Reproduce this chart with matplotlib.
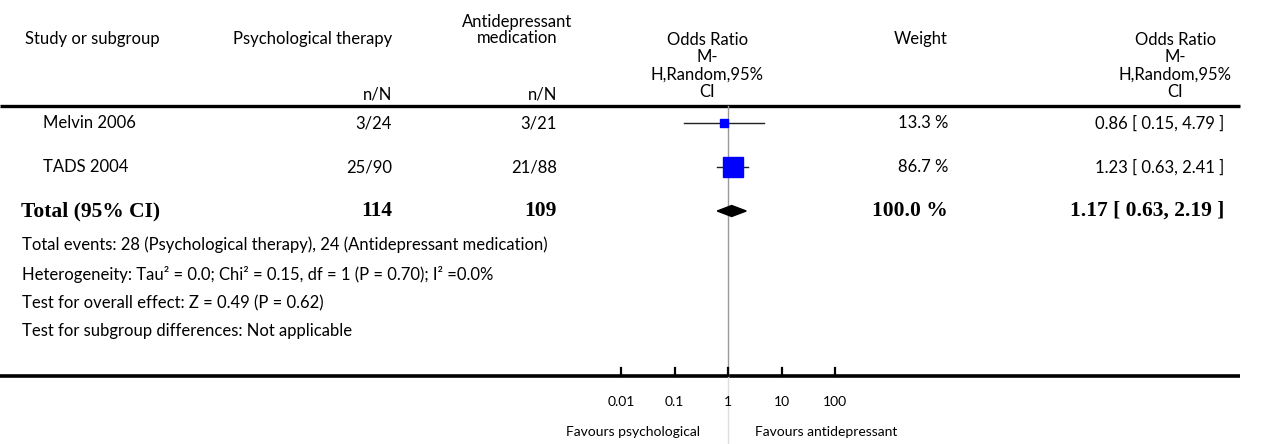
import matplotlib
matplotlib.use("Agg")
import matplotlib.pyplot as plt
import numpy as np

# data
studies = ["Melvin 2006", "TADS 2004"]
psy_events = ["3/24", "25/90"]
anti_events = ["3/21", "21/88"]
odds = [0.86, 1.23]
ci_low = [0.15, 0.63]
ci_high = [4.79, 2.41]
weights = [13.3, 86.7]
total_label = "Total (95% CI)"
total_n = [114, 109]
total_or = 1.17
total_low = 0.63
total_high = 2.19
total_weight = 100.0
tick_vals = [0.01, 0.1, 1, 10, 100]
tick_labels = ["0.01", "0.1", "1", "10", "100"]
notes = [
    "Total events: 28 (Psychological therapy), 24 (Antidepressant medication)",
    "Heterogeneity: Tau² = 0.0; Chi² = 0.15, df = 1 (P = 0.70); I² =0.0%",
    "Test for overall effect: Z = 0.49 (P = 0.62)",
    "Test for subgroup differences: Not applicable",
]

W, H = 1265, 444
fig = plt.figure(figsize=(W / 100, H / 100), dpi=100)
sans = "Lato"
serif = "Liberation Serif"
fs = 12

# text layer in pixel coordinates
ax_t = fig.add_axes([0, 0, 1, 1])
ax_t.set_xlim(0, W)
ax_t.set_ylim(H, 0)
ax_t.axis("off")

# forest layer, log scale, 1 at x=728 px, 53.5 px per decade
ax_f = fig.add_axes([0, 0, 1, 1], sharey=ax_t)
ax_f.set_xscale("log")
ax_f.set_xlim(10 ** ((0 - 728) / 53.5), 10 ** ((W - 728) / 53.5))
ax_f.axis("off")
ax_f.patch.set_alpha(0)

# header
ax_t.text(25, 39, "Study or subgroup", fontsize=fs, family=sans, va="center", ha="left")
ax_t.text(392, 39, "Psychological therapy", fontsize=fs, family=sans, va="center", ha="right")
ax_t.text(517, 30, "Antidepressant\nmedication", fontsize=fs, family=sans, va="center",
          ha="center", multialignment="center", linespacing=1.05)
ax_t.text(392, 95, "n/N", fontsize=fs, family=sans, va="center", ha="right")
ax_t.text(557, 95, "n/N", fontsize=fs, family=sans, va="center", ha="right")
ax_t.text(764, 66, "Odds Ratio\nM-\nH,Random,95%\nCI", fontsize=fs, family=sans, va="center",
          ha="right", multialignment="center", linespacing=1.1)
ax_t.text(948, 39, "Weight", fontsize=fs, family=sans, va="center", ha="right")
ax_t.text(1232, 66, "Odds Ratio\nM-\nH,Random,95%\nCI", fontsize=fs, family=sans, va="center",
          ha="right", multialignment="center", linespacing=1.1)

ax_t.plot([0, 1240], [106, 106], color="black", lw=2.4, solid_capstyle="butt")

# study rows
row_y = [123, 167]
wmax = max(weights)
for i in range(len(studies)):
    y = row_y[i]
    ax_t.text(43, y, studies[i], fontsize=fs, family=sans, va="center", ha="left")
    ax_t.text(392, y, psy_events[i], fontsize=fs, family=sans, va="center", ha="right")
    ax_t.text(557, y, anti_events[i], fontsize=fs, family=sans, va="center", ha="right")
    ax_t.text(948, y, "%.1f %%" % weights[i], fontsize=fs, family=sans, va="center", ha="right")
    ax_t.text(1224, y, "%.2f [ %.2f, %.2f ]" % (odds[i], ci_low[i], ci_high[i]),
              fontsize=fs, family=sans, va="center", ha="right")
    ax_f.plot([ci_low[i], ci_high[i]], [y, y], color="#222222", lw=1.0, zorder=3)
    ax_f.plot(odds[i], y, marker="s", color="#0000ff", ls="none",
              markersize=14.4 * np.sqrt(weights[i] / wmax), zorder=4)

# total row
ty = 211
bfs = 15.5
ax_t.text(21, ty, total_label, fontsize=bfs, family=serif, weight="bold", va="center", ha="left")
ax_t.text(392, ty, str(total_n[0]), fontsize=bfs, family=serif, weight="bold", va="center", ha="right")
ax_t.text(557, ty, str(total_n[1]), fontsize=bfs, family=serif, weight="bold", va="center", ha="right")
ax_t.text(948, ty, "%.1f %%" % total_weight, fontsize=bfs, family=serif, weight="bold",
          va="center", ha="right")
ax_t.text(1224, ty, "%.2f [ %.2f, %.2f ]" % (total_or, total_low, total_high), fontsize=bfs,
          family=serif, weight="bold", va="center", ha="right")
ax_f.fill([total_low, total_or, total_high, total_or], [ty, ty - 5.5, ty, ty + 5.5],
          color="black", zorder=4)

# notes
note_y = [245, 274, 303, 331]
for txt, y in zip(notes, note_y):
    ax_t.text(22, y, txt, fontsize=fs, family=sans, va="center", ha="left")

# null line and axis
ax_f.plot([1, 1], [106, 376], color="#999999", lw=1.0, zorder=2)
ax_f.plot([1, 1], [376, 444], color="#dddddd", lw=1.0, zorder=2)
ax_t.plot([0, 1240], [376, 376], color="black", lw=2.6, solid_capstyle="butt")
for t, lab in zip(tick_vals, tick_labels):
    ax_f.plot([t, t], [368, 376], color="black", lw=1.6)
    ax_f.text(t, 402, lab, fontsize=10, family=sans, va="center", ha="center")
ax_f.text(0.30, 432, "Favours psychological", fontsize=10, family=sans, va="center", ha="right")
ax_f.text(3.2, 432, "Favours antidepressant", fontsize=10, family=sans, va="center", ha="left")

fig.savefig("out.png", dpi=100)
